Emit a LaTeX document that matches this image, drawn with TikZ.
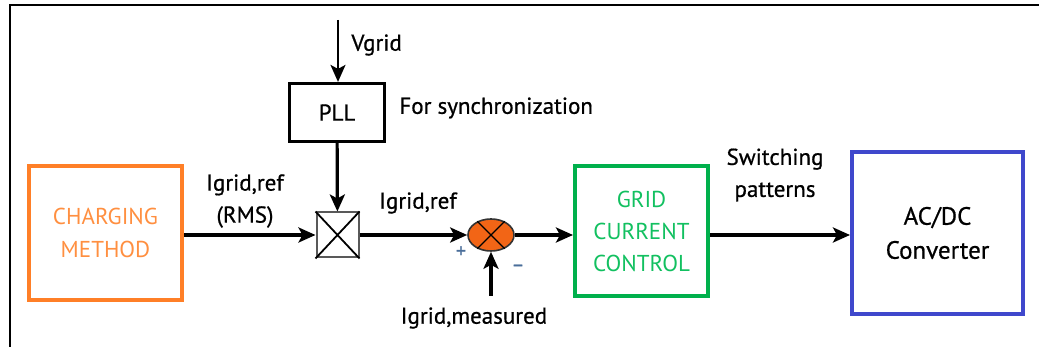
\documentclass[tikz,border=0pt]{standalone}
\usepackage{fontspec}
\setmainfont{PT Sans}[FakeBold=0.7]
\newfontfamily\plainsans{PT Sans}
\usetikzlibrary{arrows.meta,shapes.geometric}
\usetikzlibrary{positioning}

\definecolor{chargeorange}{HTML}{FF7F27}
\definecolor{chargetext}{HTML}{FF8F40}
\definecolor{gridgreen}{HTML}{00B04C}
\definecolor{gridtext}{HTML}{12C060}
\definecolor{convblue}{HTML}{3F48CC}
\definecolor{sumfill}{HTML}{F26516}
\definecolor{signgray}{HTML}{4A6E9A}

\tikzset{
  blockbox/.style={draw,rectangle,line width=2pt,align=center,inner sep=0pt},
  sig/.style={line width=1.6pt,-{Stealth[length=8.5pt,width=7.5pt,inset=2pt]}},
  lbl/.style={inner sep=0pt,align=center},
}

\begin{document}
\begin{tikzpicture}[x=0.5pt,y=-0.5pt,font=\fontsize{11.5}{16}\selectfont]
\useasboundingbox (0,0) rectangle (1039,347);

% outer frame, cut off at the right and at the bottom
\draw[line width=1pt] (10,347) -- (10,5) -- (1039,5);

% the blocks
\node[blockbox,draw=chargeorange,text=chargetext,minimum width=76.5pt,minimum height=67pt,font=\plainsans\fontsize{11.5}{16.5}\selectfont] (charging) at (105.5,233) {CHARGING\\METHOD};
\node[blockbox,line width=1.6pt,minimum width=47.5pt,minimum height=29pt] (pll) at (337,112.5) {PLL};
\node[rectangle,draw=black!65,line width=1pt,minimum width=21pt,minimum height=22.5pt,inner sep=0pt] (mult) at (337.5,235) {};
\node[ellipse,draw=black!80,fill=sumfill,line width=0.8pt,minimum width=23pt,minimum height=16pt,inner sep=0pt] (sum) at (491,235) {};
\node[blockbox,draw=gridgreen,text=gridtext,minimum width=66.5pt,minimum height=65pt,font=\plainsans\fontsize{11.5}{16}\selectfont] (gcc) at (641.5,231) {GRID\\CURRENT\\CONTROL};
\node[blockbox,draw=convblue,minimum width=85.5pt,minimum height=81pt,font=\fontsize{12.5}{17}\selectfont] (conv) at (937.5,233) {AC/DC\\Converter};

% crosses in the multiplier and the summing point
\draw[line width=0.9pt] (mult.north west) -- (mult.south east) (mult.north east) -- (mult.south west);
\draw[line width=0.7pt] (sum.45) -- (sum.225) (sum.135) -- (sum.315);

% free ends of the inputs
\coordinate (vin) at (338,20);
\coordinate (measin) at (491,296);

% connectors
\draw[sig,line width=1pt] (vin) -- (pll.north -| vin);
\draw[sig] (pll) -- (mult);
\draw[sig] (charging.east |- mult) -- (mult);
\draw[sig] (mult) -- (sum);
\draw[sig] (measin) -- (sum);
\draw[sig] (sum.east) -- (gcc.west |- sum);
\draw[sig] (gcc.east |- sum) -- (conv.west |- sum);

% labels
\node[lbl,anchor=west] (vlbl) at (351,45) {Vgrid};
\node[lbl,anchor=west] (synclbl) at (399,108) {For synchronization};
\node[lbl] (rmslbl) at (245,201) {Igrid,ref\\(RMS)};
\node[lbl] (reflbl) at (418,203) {Igrid,ref};
\node[lbl,text=signgray,font=\fontsize{10}{10}\selectfont] (plus) at (461,252) {+};
\node[lbl,text=signgray,font=\fontsize{10}{10}\selectfont] (minus) at (518,268) {--};
\node[lbl] (measlbl) at (474,318) {Igrid,measured};
\node[lbl] (swlbl) at (775,175) {Switching\\patterns};

\end{tikzpicture}
\end{document}
